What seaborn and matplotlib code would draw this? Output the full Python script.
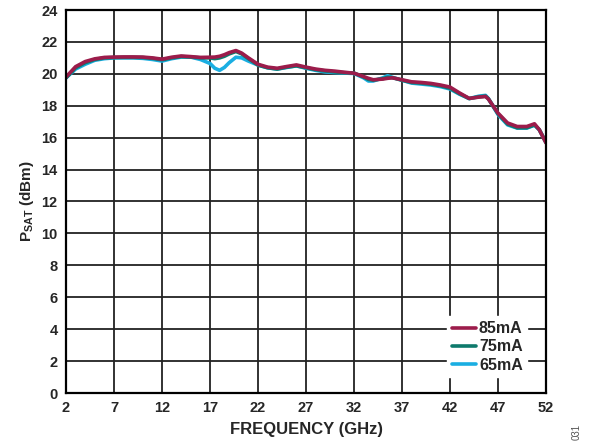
import numpy as np
import pandas as pd
import matplotlib
matplotlib.use("Agg")
import matplotlib.pyplot as plt
import seaborn as sns

# Frequency points (GHz)
freq = [2, 3, 4, 5, 6, 7, 8, 9, 10, 11, 12, 13, 14, 15, 16, 17, 17.5, 18, 18.5, 19,
        19.7, 20.3, 21, 22, 23, 24, 25, 26, 27, 28, 29, 30, 31, 32, 33, 33.5, 34, 35,
        35.5, 36, 37, 38, 39, 40, 41, 42, 43, 44, 45, 45.7, 46, 47, 48, 49, 50, 50.8,
        51.3, 52]

# PSAT (dBm) per bias current
psat_85 = [19.8, 20.45, 20.77, 20.94, 21.03, 21.05, 21.06, 21.06, 21.05, 21.0, 20.92,
           21.04, 21.12, 21.08, 21.03, 21.04, 21.05, 21.1, 21.2, 21.33, 21.46, 21.3,
           21.0, 20.6, 20.42, 20.35, 20.46, 20.56, 20.42, 20.3, 20.22, 20.17, 20.1,
           20.04, 19.83, 19.72, 19.63, 19.67, 19.72, 19.75, 19.63, 19.5, 19.46, 19.4,
           19.3, 19.17, 18.8, 18.46, 18.54, 18.58, 18.42, 17.54, 16.92, 16.7, 16.7,
           16.87, 16.5, 15.67]
psat_75 = [19.75, 20.38, 20.7, 20.9, 21.0, 21.02, 21.03, 21.03, 21.02, 20.97, 20.88,
           21.0, 21.08, 21.05, 21.0, 21.0, 20.95, 21.0, 21.1, 21.25, 21.4, 21.25,
           20.95, 20.55, 20.38, 20.3, 20.42, 20.5, 20.38, 20.26, 20.18, 20.12, 20.07,
           20.05, 19.8, 19.65, 19.6, 19.7, 19.78, 19.76, 19.6, 19.46, 19.42, 19.35,
           19.25, 19.1, 18.75, 18.45, 18.56, 18.6, 18.44, 17.5, 16.85, 16.62, 16.62,
           16.8, 16.5, 15.7]
psat_65 = [19.75, 20.3, 20.6, 20.85, 20.95, 21.0, 21.0, 21.0, 20.97, 20.9, 20.8,
           20.95, 21.05, 21.05, 20.9, 20.65, 20.35, 20.22, 20.4, 20.7, 21.04, 21.0,
           20.8, 20.55, 20.38, 20.3, 20.4, 20.5, 20.35, 20.22, 20.12, 20.08, 20.05,
           20.02, 19.75, 19.55, 19.55, 19.75, 19.88, 19.78, 19.6, 19.42, 19.36, 19.3,
           19.2, 19.05, 18.72, 18.45, 18.6, 18.65, 18.45, 17.45, 16.8, 16.6, 16.6,
           16.78, 16.5, 15.7]

series = ["85mA", "75mA", "65mA"]
colors = {"85mA": "#9c1c4b", "75mA": "#0e7a6c", "65mA": "#1aaee2"}

df = pd.concat([
    pd.DataFrame({"freq": freq, "psat": psat_65, "bias": "65mA"}),
    pd.DataFrame({"freq": freq, "psat": psat_75, "bias": "75mA"}),
    pd.DataFrame({"freq": freq, "psat": psat_85, "bias": "85mA"}),
])

sns.set_style("white")
plt.rcParams["font.family"] = ["Liberation Sans", "DejaVu Sans"]
plt.rcParams["mathtext.fontset"] = "custom"
plt.rcParams["mathtext.rm"] = "Liberation Sans:bold"
plt.rcParams["mathtext.bf"] = "Liberation Sans:bold"

fig = plt.figure(figsize=(5.95, 4.48), dpi=100)
ax = fig.add_axes([66 / 595, 1 - 393 / 448, 480 / 595, 383 / 448])

sns.lineplot(data=df, x="freq", y="psat", hue="bias", hue_order=["65mA", "75mA", "85mA"],
             palette=colors, linewidth=2.6, ax=ax, legend=False, sort=False)

ax.set_xlim(2, 52)
ax.set_ylim(0, 24)
ax.set_xticks(np.arange(2, 53, 5))
ax.set_yticks(np.arange(0, 25, 2))
ax.grid(True, color="#222222", linewidth=1.3)
ax.set_axisbelow(True)
for s in ax.spines.values():
    s.set_color("black")
    s.set_linewidth(1.6)
ax.tick_params(length=0, labelsize=10.5, pad=6)
for lab in ax.get_xticklabels() + ax.get_yticklabels():
    lab.set_fontweight("bold")

ax.set_xlabel("FREQUENCY (GHz)", fontsize=12, fontweight="bold", labelpad=5)
ax.set_ylabel(r"P$_{\mathrm{SAT}}$ (dBm)", fontsize=11, fontweight="bold", labelpad=4)

handles = [plt.Line2D([], [], color=colors[s], linewidth=2.6) for s in series]
leg = ax.legend(handles, series, loc="lower right", bbox_to_anchor=(0.978, 0.02),
                frameon=True, fancybox=False, framealpha=1, edgecolor="white",
                handlelength=1.5, handletextpad=0.2, labelspacing=0.2,
                borderpad=0.3, prop={"weight": "bold", "size": 11.5})

fig.text(577 / 595, 1 - 432 / 448, "031", rotation=90, fontsize=7, color="#555555",
         ha="center", va="center")

fig.savefig("out.png", dpi=100)
